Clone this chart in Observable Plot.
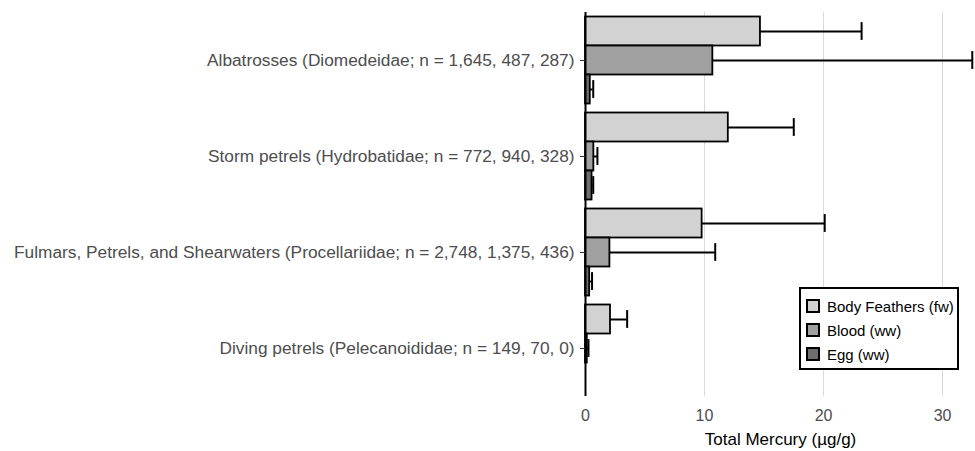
<!DOCTYPE html>
<html><head><meta charset="utf-8">
<script src="https://cdn.jsdelivr.net/npm/d3@7"></script>
<script src="https://cdn.jsdelivr.net/npm/@observablehq/plot@0.6"></script>
<style>
body{margin:0;background:#fff;}
#wrap{position:relative;width:975px;height:451px;font-family:"Liberation Sans",Arial,sans-serif;}
#legend{position:absolute;left:799px;top:287px;width:156px;height:79px;border:2px solid #000;background:#fff;}
#legend .row{position:absolute;left:5px;height:14px;display:flex;align-items:center;font-size:15px;color:#000;white-space:nowrap;}
#legend .key{width:10px;height:10px;border:2px solid #000;margin-right:7px;}
</style></head>
<body><div id="wrap"></div>
<script>
const categories = [
  "Albatrosses (Diomedeidae; n = 1,645, 487, 287)",
  "Storm petrels (Hydrobatidae; n = 772, 940, 328)",
  "Fulmars, Petrels, and Shearwaters (Procellariidae; n = 2,748, 1,375, 436)",
  "Diving petrels (Pelecanoididae; n = 149, 70, 0)"
];
const tissues = ["Body Feathers (fw)", "Blood (ww)", "Egg (ww)"];
const tissueColors = ["#d2d2d2", "#a0a0a0", "#6e6e6e"];
const featherMean = [14.7, 12.0, 9.8, 2.1];
const featherSD   = [8.5, 5.5, 10.3, 1.4];
const bloodMean   = [10.7, 0.7, 2.05, 0.15];
const bloodSD     = [21.8, 0.3, 8.85, 0.1];
const eggMean     = [0.4, 0.55, 0.35, null];
const eggSD       = [0.25, 0.1, 0.2, null];
const xTicks = [0, 10, 20, 30];
const xTitle = "Total Mercury (µg/g)";

const means = [featherMean, bloodMean, eggMean];
const sds = [featherSD, bloodSD, eggSD];
const data = [];
categories.forEach((c, i) => tissues.forEach((t, j) => {
  if (means[j][i] != null) data.push({category: c, tissue: t, mean: means[j][i], hi: means[j][i] + sds[j][i]});
}));

const chart = Plot.plot({
  width: 975, height: 451,
  marginLeft: 585, marginRight: 0, marginTop: 10.5, marginBottom: 53,
  style: {fontFamily: '"Liberation Sans", Arial, sans-serif', background: "#fff"},
  x: {domain: [0, 32.77]},
  y: {domain: tissues, axis: null, paddingInner: 0, paddingOuter: 0.15},
  fy: {domain: categories, padding: 0, axis: null},
  color: {domain: tissues, range: tissueColors},
  marks: [
    Plot.gridX(xTicks.slice(1), {stroke: "#d9d9d9", strokeOpacity: 1, strokeWidth: 1}),
    Plot.ruleY(data, {y: "tissue", fy: "category", x1: "mean", x2: "hi", stroke: "#000", strokeWidth: 2}),
    Plot.tickX(data, {x: "hi", y: "tissue", fy: "category", stroke: "#000", strokeWidth: 2, insetTop: 5.6, insetBottom: 5.6}),
    Plot.barX(data, {x1: 0, x2: "mean", y: "tissue", fy: "category", fill: "tissue", stroke: "#000", strokeWidth: 1.8}),
    Plot.ruleX([0], {stroke: "#000", strokeWidth: 2}),
    Plot.axisFy({anchor: "left", tickSize: 5, tickPadding: 6, label: null, fontSize: 17.3, color: "#4d4d4d", stroke: "#333"}),
    Plot.axisX(xTicks, {tickSize: 0, tickPadding: 13, fontSize: 16, color: "#4d4d4d",
      label: xTitle, labelArrow: "none", labelAnchor: "center", labelOffset: 48})
  ]
});
const wrap = document.getElementById("wrap");
wrap.appendChild(chart);
d3.select(chart).selectAll('[aria-label="x-axis label"] text')
  .attr("fill", "#000").style("font-size", "17px").text(xTitle);
d3.select(chart).selectAll('[aria-label="x-axis label"]').attr("fill", "#000");

const legend = document.createElement("div");
legend.id = "legend";
const rowTops = [10, 34, 58];
tissues.forEach((t, j) => {
  const row = document.createElement("div");
  row.className = "row";
  row.style.top = rowTops[j] + "px";
  const key = document.createElement("div");
  key.className = "key";
  key.style.background = tissueColors[j];
  row.appendChild(key);
  row.appendChild(document.createTextNode(t));
  legend.appendChild(row);
});
wrap.appendChild(legend);
</script></body></html>
